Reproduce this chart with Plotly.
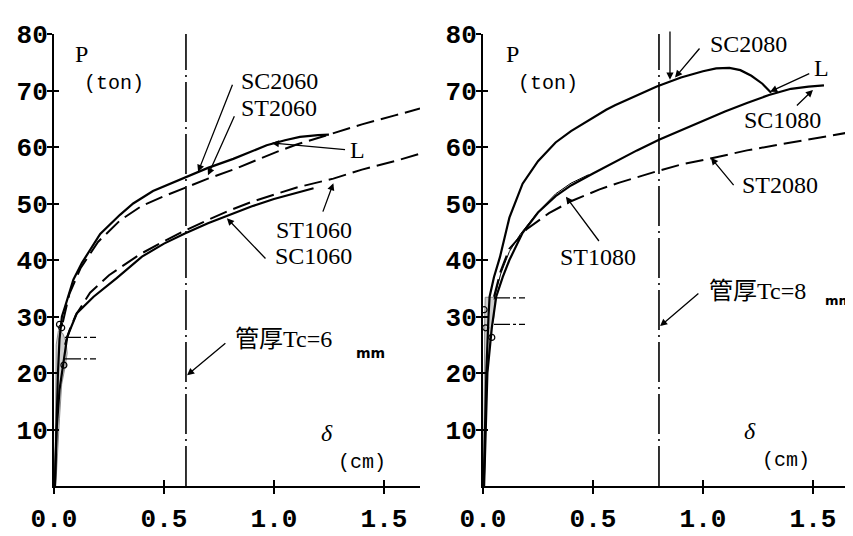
import plotly.graph_objects as go

# ---------------- data ----------------
# Left panel (tube thickness Tc = 6 mm)
sc2060_x = [0.004, 0.01, 0.018, 0.025, 0.03, 0.036, 0.05, 0.088, 0.127, 0.21, 0.30, 0.36, 0.45, 0.595, 0.70, 0.815, 0.90, 0.967, 1.05, 1.118, 1.20, 1.25]
sc2060_y = [0, 10, 20, 26, 28.5, 30, 31.7, 36.5, 39.5, 44.6, 48.0, 50.0, 52.2, 54.6, 56.3, 57.9, 59.3, 60.3, 61.2, 61.8, 62.1, 62.2]

st2060_x = [0.04, 0.07, 0.12, 0.20, 0.30, 0.40, 0.50, 0.595, 0.70, 0.815, 0.90, 1.01, 1.10, 1.27, 1.40, 1.55, 1.664]
st2060_y = [29.0, 34.0, 38.5, 43.2, 47.0, 49.6, 51.3, 52.8, 54.4, 56.0, 57.4, 59.1, 60.4, 62.4, 64.0, 65.6, 66.8]

sc1060_x = [0.004, 0.012, 0.025, 0.04, 0.05, 0.06, 0.104, 0.18, 0.285, 0.40, 0.50, 0.595, 0.70, 0.80, 0.90, 1.00, 1.10, 1.18]
sc1060_y = [0, 10, 17, 21, 24.5, 26.4, 30.6, 33.5, 36.8, 40.6, 42.9, 44.7, 46.5, 48.0, 49.5, 50.8, 51.8, 52.7]

st1060_x = [0.05, 0.07, 0.10, 0.164, 0.25, 0.39, 0.50, 0.595, 0.70, 0.80, 0.90, 1.00, 1.10, 1.27, 1.40, 1.55, 1.664]
st1060_y = [25.0, 27.5, 30.3, 34.2, 37.3, 41.0, 43.3, 45.2, 47.1, 48.8, 50.3, 51.6, 52.8, 54.4, 56.0, 57.5, 58.8]

scatter6_x = [0.004, 0.006, 0.008, 0.010, 0.020, 0.040, 0.055, 0.060, 0.050, 0.035, 0.025, 0.015, 0.008]
scatter6_y = [0, 10, 20, 25, 27.5, 27.0, 25.5, 23.5, 21.0, 18.0, 12.0, 5.0, 0]
rings6_x = [0.025, 0.035, 0.045]
rings6_y = [28.6, 28.0, 21.4]
yield6_hi = 26.3
yield6_lo = 22.5

# Right panel (tube thickness Tc = 8 mm)
sc2080_x = [0.003, 0.008, 0.015, 0.025, 0.03, 0.05, 0.077, 0.12, 0.18, 0.25, 0.33, 0.40, 0.50, 0.56, 0.60, 0.70, 0.79, 0.90, 1.00, 1.06, 1.12, 1.17, 1.22, 1.27, 1.31]
sc2080_y = [0, 10, 20, 30, 33.5, 37.0, 40.5, 47.5, 53.5, 57.5, 60.8, 62.8, 65.2, 66.6, 67.4, 69.2, 70.7, 72.3, 73.4, 73.9, 74.0, 73.6, 72.6, 71.2, 69.6]

sc1080_x = [0.005, 0.012, 0.02, 0.04, 0.06, 0.09, 0.12, 0.18, 0.25, 0.33, 0.40, 0.50, 0.60, 0.70, 0.80, 0.90, 1.00, 1.10, 1.20, 1.30, 1.40, 1.48, 1.55]
sc1080_y = [0, 10, 20, 28, 33.5, 37.0, 40.0, 44.8, 48.4, 51.3, 53.2, 55.3, 57.4, 59.4, 61.3, 63.0, 64.7, 66.3, 67.8, 69.2, 70.3, 70.7, 70.9]

st1080_x = [0.05, 0.08, 0.12, 0.17, 0.25, 0.33, 0.40, 0.48]
st1080_y = [33.0, 37.5, 41.5, 44.6, 48.5, 51.7, 53.6, 55.1]

st2080_x = [0.05, 0.08, 0.12, 0.20, 0.30, 0.40, 0.53, 0.62, 0.79, 0.90, 1.05, 1.20, 1.40, 1.55, 1.682]
st2080_y = [33.5, 38.0, 42.0, 45.5, 48.3, 50.4, 52.5, 53.7, 55.7, 56.9, 58.1, 59.4, 60.8, 61.8, 62.7]

scatter8_x = [0.003, 0.004, 0.006, 0.008, 0.010, 0.055, 0.050, 0.040, 0.030, 0.020, 0.012, 0.006]
scatter8_y = [0, 10, 20, 30, 33.4, 33.4, 30.0, 28.0, 25.0, 20.0, 10.0, 0]
rings8_x = [0.005, 0.012, 0.04]
rings8_y = [31.2, 28.0, 26.3]
yield8_hi = 33.3
yield8_lo = 28.6

# reference lines and axis ticks
tube6_x = 0.6
tube8_x = 0.8
y_range = [0, 80]
x_ticks = [0.0, 0.5, 1.0, 1.5]
x_ticklabels = ["0.0", "0.5", "1.0", "1.5"]
y_ticks = [10, 20, 30, 40, 50, 60, 70, 80]
y_ticklabels = ["10", "20", "30", "40", "50", "60", "70", "80"]
yield_bar_x = [0.05, 0.21]

# ---------------- figure ----------------
# the page body adds an 8px offset, so the figure is 845x528 and
# positions are measured from (8, 8) of the window
W, H = 845, 528
OFF = 8
ydom = [1 - (486 - OFF) / H, 1 - (34 - OFF) / H]
xdom_l = [(54 - OFF) / W, (420 - OFF) / W]
xdom_r = [(483 - OFF) / W, 1.0]
xr_l = [0, 1.664]
xr_r = [0, 1.682]

fig = go.Figure()

SOLID = dict(color="black", width=2.2)
DASH = dict(color="black", width=2.0, dash="18px,7px")
VLINE = dict(color="black", width=1.6, dash="40px,5px,2px,5px")
YBAR = dict(color="black", width=1.4, dash="16px,3px,3px,3px,6px")


def add(x, y, line, ax, fill=None, mode="lines", marker=None):
    kw = dict(x=x, y=y, mode=mode, line=line, xaxis=ax[0], yaxis=ax[1],
              showlegend=False, hoverinfo="skip")
    if fill:
        kw.update(fill="toself", fillcolor=fill)
    if marker:
        kw.update(marker=marker)
    fig.add_trace(go.Scatter(**kw))


L = ("x", "y")
R = ("x2", "y2")

# left panel
add(scatter6_x, scatter6_y, dict(color="#777", width=0.8), L, fill="#cfcfcf")
add(rings6_x, rings6_y, None, L, mode="markers",
    marker=dict(symbol="circle-open", size=6, color="black", line=dict(width=1.2)))
add(sc2060_x, sc2060_y, SOLID, L)
add(st2060_x, st2060_y, DASH, L)
add(sc1060_x, sc1060_y, SOLID, L)
add(st1060_x, st1060_y, DASH, L)
add([tube6_x, tube6_x], y_range, VLINE, L)
add(yield_bar_x, [yield6_hi, yield6_hi], YBAR, L)
add(yield_bar_x, [yield6_lo, yield6_lo], YBAR, L)

# right panel
add(scatter8_x, scatter8_y, dict(color="#777", width=0.8), R, fill="#cfcfcf")
add(rings8_x, rings8_y, None, R, mode="markers",
    marker=dict(symbol="circle-open", size=6, color="black", line=dict(width=1.2)))
add(sc2080_x, sc2080_y, SOLID, R)
add(sc1080_x, sc1080_y, SOLID, R)
add(st1080_x, st1080_y, dict(color="black", width=1.0), R)
add(st2080_x, st2080_y, DASH, R)
add([tube8_x, tube8_x], y_range, VLINE, R)
add(yield_bar_x, [yield8_hi, yield8_hi], YBAR, R)
add(yield_bar_x, [yield8_lo, yield8_lo], YBAR, R)

# invisible traces so that the "inside tick" overlay axes get drawn
for xa, ya in (("x3", "y3"), ("x4", "y4")):
    fig.add_trace(go.Scatter(x=[None], y=[None], xaxis=xa, yaxis=ya,
                             showlegend=False, hoverinfo="skip"))

TICKFONT = dict(family="Liberation Mono", size=26, color="black", weight="bold")


def xaxis(dom, rng, anchor):
    return dict(domain=dom, range=rng, anchor=anchor, showgrid=False, zeroline=False,
                showline=True, linecolor="black", linewidth=2, automargin=False,
                ticks="outside", ticklen=6, tickwidth=2, tickcolor="black",
                tickvals=x_ticks, ticktext=x_ticklabels, tickfont=TICKFONT,
                ticklabelstandoff=2, fixedrange=True)


def yaxis(dom, anchor):
    return dict(domain=dom, range=y_range, anchor=anchor, showgrid=False, zeroline=False,
                showline=True, linecolor="black", linewidth=2, automargin=False,
                ticks="outside", ticklen=5, tickwidth=2, tickcolor="black",
                tickvals=y_ticks, ticktext=y_ticklabels, tickfont=TICKFONT,
                ticklabelstandoff=-6, fixedrange=True)


def inner_x(over, rng, anchor):
    return dict(overlaying=over, range=rng, anchor=anchor, showgrid=False, zeroline=False,
                showline=False, ticks="inside", ticklen=6, tickwidth=2, tickcolor="black",
                tickvals=x_ticks, showticklabels=False, fixedrange=True, automargin=False)


def inner_y(over, anchor):
    return dict(overlaying=over, range=y_range, anchor=anchor, showgrid=False, zeroline=False,
                showline=False, ticks="inside", ticklen=5, tickwidth=2, tickcolor="black",
                tickvals=y_ticks, showticklabels=False, fixedrange=True, automargin=False)


fig.update_layout(
    width=W, height=H,
    margin=dict(l=0, r=0, t=0, b=0, autoexpand=False),
    paper_bgcolor="white", plot_bgcolor="rgba(0,0,0,0)",
    xaxis=xaxis(xdom_l, xr_l, "y"),
    yaxis=yaxis(ydom, "x"),
    xaxis2=xaxis(xdom_r, xr_r, "y2"),
    yaxis2=yaxis(ydom, "x2"),
    xaxis3=inner_x("x", xr_l, "y3"),
    yaxis3=inner_y("y", "x3"),
    xaxis4=inner_x("x2", xr_r, "y4"),
    yaxis4=inner_y("y2", "x4"),
)

SERIF = "Liberation Serif"
MONO = "Liberation Mono"
CJK = "Liberation Serif, Noto Sans CJK JP"


def text(s, x, y, xr, yr, size=24, family=SERIF, **kw):
    fig.add_annotation(text=s, x=x, y=y, xref=xr, yref=yr, showarrow=False,
                       xanchor="center", yanchor="middle",
                       font=dict(family=family, size=size, color="black", **kw))


def arrow(tip, tail, xr, yr):
    fig.add_annotation(text="", x=tip[0], y=tip[1], ax=tail[0], ay=tail[1],
                       xref=xr, yref=yr, axref=xr, ayref=yr,
                       showarrow=True, arrowhead=2, arrowsize=1.1, arrowwidth=1.3,
                       arrowcolor="black", standoff=0, startstandoff=0)


# left annotations
text("P", 0.123, 76.5, "x", "y")
text("(ton)", 0.273, 71.3, "x", "y", size=20, family=MONO)
text("SC2060", 1.023, 71.7, "x", "y")
text("ST2060", 1.023, 66.9, "x", "y")
text("L", 1.38, 59.5, "x", "y")
text("ST1060", 1.18, 45.3, "x", "y")
text("SC1060", 1.18, 40.7, "x", "y")
text("管厚Tc=6", 1.045, 26.0, "x", "y", family=CJK)
text("mm", 1.44, 23.5, "x", "y", size=14, family="DejaVu Sans", weight="bold")
text("δ", 1.24, 9.4, "x", "y", size=24, style="italic")
text("(cm)", 1.40, 4.2, "x", "y", size=20, family=MONO)
arrow((0.655, 55.6), (0.814, 71.3), "x", "y")
arrow((0.70, 55.0), (0.823, 65.7), "x", "y")
arrow((0.99, 60.7), (1.33, 59.5), "x", "y")
arrow((1.27, 53.6), (1.22, 48.3), "x", "y")
arrow((0.786, 47.4), (0.968, 40.0), "x", "y")
arrow((0.605, 19.6), (0.786, 25.5), "x", "y")

# right annotations
text("P", 0.132, 76.5, "x2", "y2")
text("(ton)", 0.295, 71.2, "x2", "y2", size=20, family=MONO)
text("L", 0.873, 82.5, "x2", "y2")
text("SC2080", 1.205, 78.3, "x2", "y2")
text("L", 1.54, 73.9, "x2", "y2")
text("SC1080", 1.36, 64.8, "x2", "y2")
text("ST2080", 1.35, 53.2, "x2", "y2")
text("ST1080", 0.523, 40.6, "x2", "y2")
text("管厚Tc=8", 1.25, 34.6, "x2", "y2", family=CJK)
text("mm", 1.615, 32.9, "x2", "y2", size=13, family="DejaVu Sans", weight="bold")
text("δ", 1.215, 9.8, "x2", "y2", size=24, style="italic")
text("(cm)", 1.377, 4.6, "x2", "y2", size=20, family=MONO)
arrow((0.85, 71.9), (0.85, 80.7), "x2", "y2")
arrow((0.873, 72.3), (0.99, 77.7), "x2", "y2")
arrow((1.305, 69.8), (1.49, 73.1), "x2", "y2")
arrow((1.50, 70.1), (1.42, 67.1), "x2", "y2")
arrow((1.036, 58.1), (1.145, 53.0), "x2", "y2")
arrow((0.377, 51.2), (0.532, 43.1), "x2", "y2")
arrow((0.805, 28.3), (0.986, 34.3), "x2", "y2")

fig.write_html("out.html")
